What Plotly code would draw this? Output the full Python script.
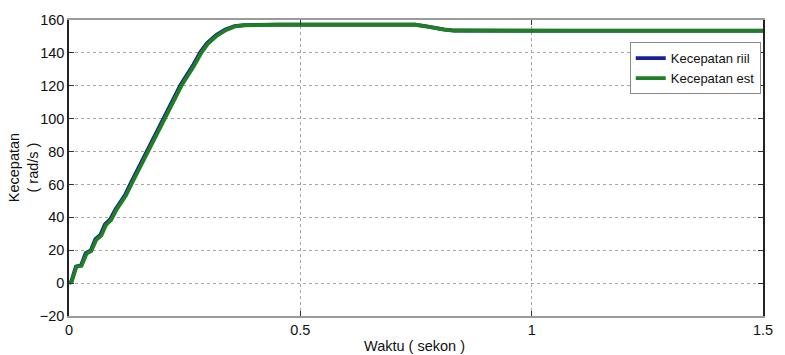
import plotly.graph_objects as go

# Speed response samples: time (s) and speed (rad/s)
t_riil = [0.0, 0.005, 0.015, 0.026, 0.036, 0.047, 0.057, 0.068, 0.078, 0.089, 0.100,
          0.110, 0.121, 0.133, 0.169, 0.205, 0.241, 0.269, 0.284, 0.298, 0.318,
          0.338, 0.358, 0.378, 0.40, 0.45, 0.55, 0.65, 0.748, 0.77, 0.79, 0.81,
          0.832, 0.9, 1.1, 1.3, 1.5]
v_riil = [0.0, 1.0, 10.0, 10.8, 18.2, 19.8, 26.8, 29.4, 35.8, 38.7, 44.7,
          48.6, 53.6, 60.5, 80.5, 100.5, 120.5, 133.0, 140.5, 145.8, 150.8,
          154.2, 156.3, 156.9, 157.1, 157.2, 157.2, 157.2, 157.2, 156.3, 155.2, 154.3,
          153.6, 153.5, 153.5, 153.5, 153.5]

t_est = [0.0, 0.006, 0.016, 0.027, 0.038, 0.048, 0.059, 0.070, 0.080, 0.091, 0.102,
         0.112, 0.123, 0.135, 0.171, 0.207, 0.243, 0.271, 0.286, 0.300, 0.320,
         0.340, 0.360, 0.380, 0.40, 0.45, 0.55, 0.65, 0.749, 0.77, 0.79, 0.81,
         0.834, 0.9, 1.1, 1.3, 1.5]
v_est = [0.0, 1.0, 10.0, 10.5, 17.9, 19.5, 26.4, 29.0, 35.4, 38.3, 44.3,
         48.2, 53.2, 60.1, 80.0, 100.0, 120.0, 132.5, 140.0, 145.5, 150.5,
         154.0, 156.2, 156.8, 157.0, 157.1, 157.1, 157.1, 157.1, 156.2, 155.1, 154.2,
         153.5, 153.4, 153.4, 153.4, 153.4]

x_ticks = [0, 0.5, 1, 1.5]
x_tick_labels = ["0", "0.5", "1", "1.5"]
y_ticks = [-20, 0, 20, 40, 60, 80, 100, 120, 140, 160]

fig = go.Figure()
fig.add_trace(go.Scatter(x=t_riil, y=v_riil, mode="lines", name="Kecepatan riil",
                         line=dict(color="#1b1f9a", width=3.8)))
fig.add_trace(go.Scatter(x=t_est, y=v_est, mode="lines", name="Kecepatan est",
                         line=dict(color="#1f7f23", width=3.8)))

family = "Arial, 'Liberation Sans', sans-serif"
font = dict(family=family, size=14.5, color="#111")

fig.update_layout(
    width=785, height=355,
    margin=dict(l=69, r=13, t=13, b=39),
    paper_bgcolor="white", plot_bgcolor="white",
    font=font,
    showlegend=True,
    legend=dict(x=0.808, y=0.925, xanchor="left", yanchor="top",
                bgcolor="white", bordercolor="#8a8a8a", borderwidth=1,
                font=dict(family=family, size=13, color="#111"),
                itemwidth=30, tracegroupgap=0),
    xaxis=dict(range=[0, 1.5], tickvals=x_ticks, ticktext=x_tick_labels,
               showgrid=True, gridcolor="#a6a6a6", griddash="dot", gridwidth=1,
               zeroline=False, showline=True, linecolor="#9a9a9a", linewidth=2,
               mirror="ticks", ticks="inside", ticklen=5, tickcolor="#333",
               tickfont=font),
    yaxis=dict(range=[-20, 160], tickvals=y_ticks,
               showgrid=True, gridcolor="#a6a6a6", griddash="dot", gridwidth=1,
               zeroline=False, showline=True, linecolor="#222", linewidth=1.5,
               mirror="ticks", ticks="inside", ticklen=5, tickcolor="#333",
               tickfont=font),
    annotations=[
        dict(text="Kecepatan<br>( rad/s )", xref="paper", yref="paper",
             x=-0.066, y=0.5, xanchor="center", yanchor="middle",
             textangle=-90, showarrow=False, font=font),
        dict(text="Waktu ( sekon )", xref="paper", yref="paper",
             x=0.498, y=-0.1, xanchor="center", yanchor="middle",
             showarrow=False, font=font),
    ],
)

fig.write_html("out.html")
